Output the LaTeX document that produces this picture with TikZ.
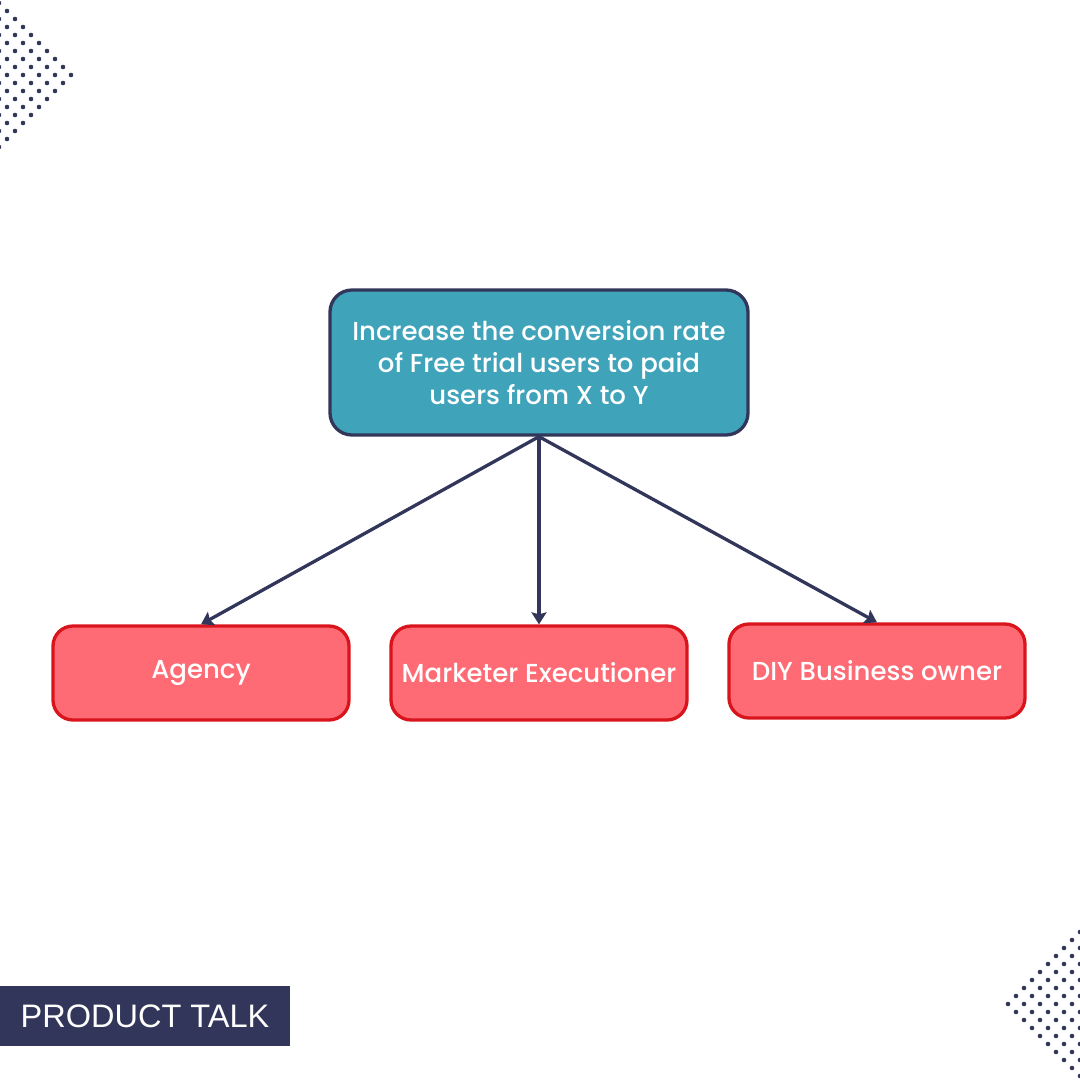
\documentclass[tikz,border=0pt]{standalone}
\usepackage{fontspec}
\setmainfont{Poppins}[UprightFont=* Medium]
\newfontfamily\brandfont{Liberation Sans}
\usepackage{tikz}
\usetikzlibrary{arrows.meta}

\definecolor{goalteal}{HTML}{3FA3BA}
\definecolor{inknavy}{HTML}{32365A}
\definecolor{segcoral}{HTML}{FF6B74}
\definecolor{segred}{HTML}{D9141C}

\begin{document}
\begin{tikzpicture}[x=1pt,y=-1pt,>={Stealth[length=12pt,width=15pt,inset=2pt]},line width=3.3pt,node distance=338pt,
  goal node/.style={rectangle,rounded corners=22pt,draw=inknavy,fill=goalteal,text=white,minimum width=418pt,minimum height=145pt,align=center,font=\fontsize{26}{32}\selectfont},
  seg node/.style={rectangle,rounded corners=20pt,draw=segred,fill=segcoral,text=white,minimum width=296pt,minimum height=94pt,font=\fontsize{26}{30}\selectfont},
  brand node/.style={rectangle,fill=inknavy,text=white,minimum width=290pt,minimum height=60pt,inner sep=0pt,font=\brandfont\fontsize{32.5}{36}\selectfont},
  dotmark/.style={fill=inknavy,draw=none}]

  \useasboundingbox[fill=white] (0,0) rectangle (1080,1080);

  % dotted corners
  \foreach \b in {-9,...,9}{
    \pgfmathtruncatemacro\s{abs(\b)}
    \pgfmathtruncatemacro\t{\s+2}
    \foreach \a in {\s,\t,...,9}{
      \fill[dotmark] (71-8*\a,75+8*\b) circle (2.3pt);
      \fill[dotmark] (1008+8*\a,1004+8*\b) circle (2.3pt);
    }
  }

  \node[seg node] (market) at (539,673) {Marketer Executioner};
  \node[seg node] (agency) [left of=market] {Agency};
  \node[seg node] (diy) [right of=market, yshift=2pt] {DIY Business owner};
  \node[goal node] (goal) [above of=market, node distance=310.5pt] {Increase the conversion rate\\of Free trial users to paid\\users from X to Y};

  \path[every edge/.style={draw=inknavy,->}]
    (goal.south) edge (agency.north)
                 edge (market.north)
                 edge (diy.north);

  \node[brand node] (brand) at (145,1016) {PRODUCT TALK};

\end{tikzpicture}
\end{document}
